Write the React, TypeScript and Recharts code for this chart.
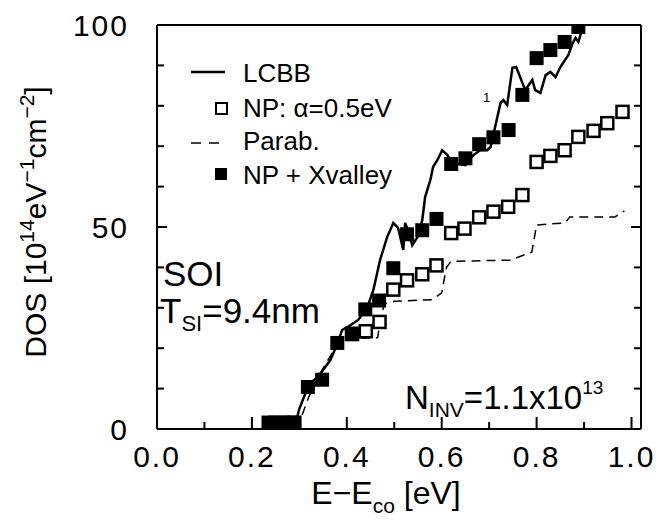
import React from 'react';
import { ComposedChart, Line, Scatter, XAxis, YAxis } from 'recharts';

// LCBB (solid line)
const lcbbX = [0.22, 0.29, 0.30, 0.32, 0.34, 0.365, 0.38, 0.39, 0.401, 0.424, 0.443, 0.456, 0.464, 0.47, 0.485, 0.498, 0.508, 0.519, 0.523, 0.53, 0.538, 0.549, 0.559, 0.565, 0.576, 0.582, 0.591, 0.601, 0.612, 0.622, 0.65, 0.667, 0.681, 0.696, 0.703, 0.713, 0.724, 0.73, 0.738, 0.749, 0.757, 0.766, 0.776, 0.791, 0.797, 0.808, 0.819, 0.829, 0.84, 0.85, 0.867, 0.876, 0.882, 0.888, 0.897, 0.905];
const lcbbY = [0, 0.5, 5, 11, 13, 17, 21, 24.5, 25.2, 27, 30, 34.4, 38.6, 41.8, 47.5, 51, 49.8, 44.3, 51, 48.8, 45.5, 47.5, 51.7, 57.4, 61.6, 64.9, 66.6, 69, 67.8, 65.8, 65.3, 67.8, 69, 69, 69.8, 75, 80.7, 81.4, 80.2, 89.4, 89.6, 86.9, 83.9, 86.4, 83.9, 83.2, 87.6, 88.4, 87.1, 89.6, 92.6, 95.5, 96.8, 95.8, 99.3, 102];

// Parabolic (dashed staircase)
const parabX = [0.295, 0.32, 0.345, 0.37, 0.39, 0.465, 0.472, 0.48, 0.5, 0.58, 0.6, 0.61, 0.62, 0.745, 0.79, 0.8, 0.86, 0.87, 0.965, 0.985];
const parabY = [0, 8, 14, 19, 22.3, 22.6, 28, 31, 31.6, 32, 33.7, 40, 41.5, 41.8, 43.8, 50.5, 51, 52.5, 52.5, 54];

// NP: alpha = 0.5eV (open squares)
const npX = [0.411, 0.44, 0.469, 0.498, 0.527, 0.559, 0.589, 0.62, 0.648, 0.679, 0.709, 0.74, 0.77, 0.8, 0.829, 0.859, 0.888, 0.92, 0.949, 0.981];
const npY = [23.5, 24.2, 26.5, 34.5, 36.8, 38.3, 40.5, 48.5, 49.6, 52.4, 53.8, 55, 57.9, 66.1, 67.6, 69, 72.3, 73.8, 75.7, 78.5];

// NP + Xvalley (filled squares)
const xvX = [0.235, 0.25, 0.265, 0.28, 0.29, 0.318, 0.348, 0.38, 0.411, 0.439, 0.468, 0.498, 0.527, 0.559, 0.589, 0.62, 0.65, 0.679, 0.709, 0.741, 0.77, 0.8, 0.829, 0.859, 0.888];
const xvY = [1.6, 1.6, 1.6, 1.6, 1.6, 10.4, 12.2, 21.3, 23.6, 29.6, 31.8, 39.8, 48.2, 49.2, 52, 65.6, 67, 70.5, 72.2, 74, 82.7, 91.8, 93.8, 95.8, 99.5];

const xTicks = [0, 0.1, 0.2, 0.3, 0.4, 0.5, 0.6, 0.7, 0.8, 0.9, 1.0];
const yTicks = [0, 10, 20, 30, 40, 50, 60, 70, 80, 90, 100];
const xLabels = ['0.0', '0.2', '0.4', '0.6', '0.8', '1.0'];
const yLabels = [0, 50, 100];

const toPts = (xs: number[], ys: number[]) => xs.map((x, i) => ({ x, y: ys[i] }));

const FONT = '"Liberation Sans", Arial, Helvetica, sans-serif';
const W = 657;
const H = 523;

const isMajorX = (v: number) => xLabels.includes(v.toFixed(1));

const BottomTick = (p: any) => {
  const v = p.payload.value;
  const major = isMajorX(v);
  return (
    <g>
      <line x1={p.x} x2={p.x} y1={p.y} y2={p.y - (major ? 12 : 7)} stroke="#000" strokeWidth={2} />
      {major && (
        <text x={p.x} y={p.y + 38} textAnchor="middle" fontSize={30} fontFamily={FONT} letterSpacing={2} fill="#000">
          {v.toFixed(1)}
        </text>
      )}
    </g>
  );
};

const TopTick = (p: any) => {
  const major = isMajorX(p.payload.value);
  return <line x1={p.x} x2={p.x} y1={p.y} y2={p.y + (major ? 12 : 7)} stroke="#000" strokeWidth={2} />;
};

const LeftTick = (p: any) => {
  const v = p.payload.value;
  const major = yLabels.includes(v);
  return (
    <g>
      <line x1={p.x} x2={p.x + (major ? 10 : 7)} y1={p.y} y2={p.y} stroke="#000" strokeWidth={2} />
      {major && (
        <text x={p.x - 28} y={p.y + 11} textAnchor="end" fontSize={30} fontFamily={FONT} letterSpacing={2} fill="#000">
          {v}
        </text>
      )}
    </g>
  );
};

const RightTick = (p: any) => {
  const major = yLabels.includes(p.payload.value);
  return <line x1={p.x} x2={p.x - (major ? 10 : 7)} y1={p.y} y2={p.y} stroke="#000" strokeWidth={2} />;
};

const FilledSquare = (p: any) => (
  <rect x={p.cx - 7} y={p.cy - 7} width={14} height={14} fill="#000" />
);
const OpenSquare = (p: any) => (
  <rect x={p.cx - 6} y={p.cy - 6} width={12} height={12} fill="#fff" stroke="#000" strokeWidth={2.5} />
);

export default function App() {
  return (
    <div style={{ position: 'absolute', left: 0, top: 0, width: W, height: H, background: '#fff' }}>
      <ComposedChart width={W} height={H} margin={{ top: 24, right: 15, bottom: 93, left: 156 }}>
        <XAxis
          dataKey="x"
          type="number"
          domain={[0, 1.02]}
          ticks={xTicks}
          height={1}
          tickSize={0}
          tickMargin={0}
          tick={<BottomTick />}
          axisLine={{ stroke: '#000', strokeWidth: 2 }}
          allowDataOverflow
        />
        <XAxis
          xAxisId="top"
          orientation="top"
          type="number"
          domain={[0, 1.02]}
          ticks={xTicks}
          height={1}
          tickSize={0}
          tickMargin={0}
          tick={<TopTick />}
          axisLine={{ stroke: '#000', strokeWidth: 2 }}
          allowDataOverflow
        />
        <YAxis
          dataKey="y"
          type="number"
          domain={[0, 100]}
          ticks={yTicks}
          width={1}
          tickSize={0}
          tickMargin={0}
          tick={<LeftTick />}
          axisLine={{ stroke: '#000', strokeWidth: 2 }}
          allowDataOverflow
        />
        <YAxis
          yAxisId="right"
          orientation="right"
          type="number"
          domain={[0, 100]}
          ticks={yTicks}
          width={1}
          tickSize={0}
          tickMargin={0}
          tick={<RightTick />}
          axisLine={{ stroke: '#000', strokeWidth: 2 }}
          allowDataOverflow
        />
        <Line
          data={toPts(parabX, parabY)}
          dataKey="y"
          type="linear"
          stroke="#000"
          strokeWidth={1.5}
          strokeDasharray="9 6"
          dot={false}
          isAnimationActive={false}
        />
        <Line
          data={toPts(lcbbX, lcbbY)}
          dataKey="y"
          type="linear"
          stroke="#000"
          strokeWidth={2.5}
          dot={false}
          isAnimationActive={false}
        />
        <Scatter data={toPts(npX, npY)} dataKey="y" shape={<OpenSquare />} isAnimationActive={false} />
        <Scatter data={toPts(xvX, xvY)} dataKey="y" shape={<FilledSquare />} isAnimationActive={false} />
      </ComposedChart>

      <svg width={W} height={H} style={{ position: 'absolute', left: 0, top: 0, pointerEvents: 'none' }} fontFamily={FONT} fill="#000">
        {/* legend */}
        <line x1={191} x2={225} y1={72} y2={72} stroke="#000" strokeWidth={2.5} />
        <text x={243} y={82} fontSize={26}>LCBB</text>
        <rect x={216} y={103} width={11} height={11} fill="#fff" stroke="#000" strokeWidth={2} />
        <text x={243} y={117} fontSize={26}>NP: α=0.5eV</text>
        <line x1={191} x2={225} y1={143} y2={143} stroke="#000" strokeWidth={1.5} strokeDasharray="10 8" />
        <text x={243} y={150} fontSize={26}>Parab.</text>
        <rect x={215} y={168} width={12} height={12} fill="#000" />
        <text x={243} y={184} fontSize={26}>NP + Xvalley</text>
        <text x={483} y={102} fontSize={13} fill="#000">1</text>

        {/* annotations */}
        <text x={163} y={286} fontSize={35}>SOI</text>
        <text x={160} y={323} fontSize={35}>
          T<tspan fontSize={22} dy={8}>SI</tspan>
          <tspan dy={-8}>=9.4nm</tspan>
        </text>
        <text x={405} y={409} fontSize={33}>
          N<tspan fontSize={21} dy={8}>INV</tspan>
          <tspan dy={-8}>=1.1x10</tspan>
          <tspan fontSize={19} dy={-15}>13</tspan>
        </text>

        {/* axis titles */}
        <text x={386} y={504} fontSize={32} textAnchor="middle">
          E−E<tspan fontSize={21} dy={9}>co</tspan>
          <tspan dy={-9}> [eV]</tspan>
        </text>
        <text transform="translate(46,222) rotate(-90)" fontSize={30} textAnchor="middle">
          DOS [10<tspan fontSize={21} dy={-12}>14</tspan>
          <tspan dy={12}>eV</tspan>
          <tspan fontSize={21} dy={-12}>−1</tspan>
          <tspan dy={12}>cm</tspan>
          <tspan fontSize={21} dy={-12}>−2</tspan>
          <tspan dy={12}>]</tspan>
        </text>
      </svg>
    </div>
  );
}
